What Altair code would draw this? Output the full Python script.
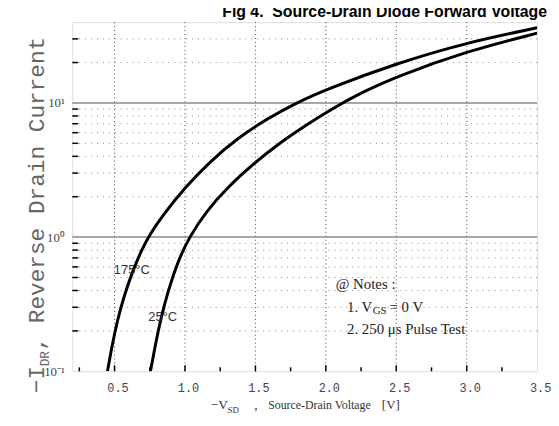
import altair as alt
import pandas as pd

# ---- data ----
v175 = [0.45, 0.48, 0.52, 0.57, 0.63, 0.69, 0.75, 0.84, 1.0, 1.18, 1.37, 1.58, 1.79, 2.0, 2.5, 3.0, 3.5]
i175 = [0.1, 0.151, 0.240, 0.372, 0.562, 0.794, 1.047, 1.445, 2.344, 3.673, 5.433, 7.586, 10.0, 12.59, 19.72, 28.18, 36.31]
v25 = [0.755, 0.79, 0.83, 0.88, 0.95, 1.03, 1.15, 1.30, 1.49, 1.67, 1.86, 2.05, 2.25, 2.5, 3.0, 3.5]
i25 = [0.1, 0.158, 0.251, 0.398, 0.661, 1.0, 1.55, 2.34, 3.55, 5.01, 6.84, 9.12, 11.9, 15.7, 24.3, 33.1]

x_grid = [0.5, 1.0, 1.5, 2.0, 2.5, 3.0]
x_labels = [0.5, 1.0, 1.5, 2.0, 2.5, 3.0, 3.5]
x_major_ticks = [0.5, 1.0, 1.5, 2.0, 2.5, 3.0]
x_minor_ticks = [0.25, 0.75, 1.25, 1.75, 2.25, 2.75, 3.25]
y_minor = [0.2, 0.3, 0.4, 0.5, 0.6, 0.7, 0.8, 0.9, 2, 3, 4, 5, 6, 7, 8, 9, 20, 30]
y_decades = [1, 10]
y_labels = [0.1, 1, 10]

W, H = 470, 353
xs = alt.Scale(domain=[0.2, 3.5], nice=False, zero=False)
ys = alt.Scale(type="log", domain=[0.1, 40], nice=False)

xaxis = alt.Axis(values=x_labels, format=".1f", grid=False, ticks=False, domain=False,
                 title="", labelFont="Liberation Mono", labelFontSize=12, labelColor="#444",
                 labelPadding=11, labelFlush=False, labelOffset=3)
yaxis = alt.Axis(values=y_labels, grid=False, ticks=False, domain=False, title="",
                 labelExpr="datum.value == 0.1 ? '10\u207b\u00b9' : datum.value == 1 ? '10\u2070' : '10\u00b9'",
                 labelFont="Liberation Serif", labelFontSize=13, labelColor="#444", labelPadding=8)

def X(f):
    return alt.X(f, type="quantitative", scale=xs, axis=xaxis)

def Y(f):
    return alt.Y(f, type="quantitative", scale=ys, axis=yaxis)

curves = pd.DataFrame({
    "v": v175 + v25,
    "i": i175 + i25,
    "s": ["175"] * len(v175) + ["25"] * len(v25),
})

vgrid = alt.Chart(pd.DataFrame({"v": x_grid})).mark_rule(
    color="#444", strokeWidth=1, strokeDash=[1, 3]).encode(x=X("v"))
hgrid = alt.Chart(pd.DataFrame({"i": y_minor})).mark_rule(
    color="#888", strokeWidth=1, strokeDash=[1, 5]).encode(y=Y("i"))
hdec = alt.Chart(pd.DataFrame({"i": y_decades})).mark_rule(
    color="#8a8a8a", strokeWidth=1.5).encode(y=Y("i"))

bt_major = alt.Chart(pd.DataFrame({"v": x_major_ticks})).mark_rule(color="black", strokeWidth=1.5).encode(
    x=X("v"), y=alt.value(H), y2=alt.value(H - 6))
bt_minor = alt.Chart(pd.DataFrame({"v": x_minor_ticks})).mark_rule(color="black", strokeWidth=1.5).encode(
    x=X("v"), y=alt.value(H), y2=alt.value(H - 4))
lt = alt.Chart(pd.DataFrame({"i": y_minor})).mark_rule(color="black", strokeWidth=1.5).encode(
    y=Y("i"), x=alt.value(0), x2=alt.value(6))

lines = alt.Chart(curves).mark_line(color="black", strokeWidth=3, interpolate="basis", clip=True).encode(
    x=X("v"), y=Y("i"), detail="s:N")

def ann(s, v, i, size=15, font="Liberation Serif", dx=0, dy=0, color="#222"):
    return alt.Chart(pd.DataFrame({"v": [v], "i": [i], "t": [s]})).mark_text(
        align="left", baseline="middle", font=font, fontSize=size, dx=dx, dy=dy, color=color
    ).encode(x=X("v"), y=Y("i"), text="t:N")

def txt(s, x, y, size=13, font="Liberation Serif", angle=0, align="left", weight="normal", color="#333"):
    return alt.Chart(pd.DataFrame({"t": [s]})).mark_text(
        align=align, baseline="alphabetic", font=font, fontSize=size, angle=angle,
        fontWeight=weight, color=color
    ).encode(x=alt.value(x), y=alt.value(y), text="t:N")

notes = [
    ann("@ Notes :", 2.07, 0.444),
    ann("1. V", 2.15, 0.30),
    ann("GS", 2.15, 0.30, size=11, dx=26, dy=4),
    ann("= 0 V", 2.15, 0.30, dx=43),
    ann("2. 250 \u03bcs Pulse Test", 2.15, 0.207),
    ann("175\u00b0C", 0.495, 0.57, size=13, font="Liberation Sans", color="#333"),
    ann("25\u00b0C", 0.74, 0.254, size=13, font="Liberation Sans", color="#333"),
]

titles = [
    txt("Fig 4.\u00a0\u00a0Source-Drain Diode Forward Voltage", 480, -5, size=16,
        font="Liberation Sans", align="right", weight="bold", color="black"),
    txt("\u2212V", 140, 391, size=13.5),
    txt("SD", 157, 395, size=9),
    txt(",", 184, 391, size=13.5),
    txt("Source-Drain Voltage", 198, 391, size=12),
    txt("[V]", 313, 391, size=13),
    txt("\u2212I", -29, 375, size=23, font="Liberation Mono", angle=270, color="#666"),
    txt("DR", -24, 348, size=13, font="Liberation Mono", angle=270, color="#666"),
    txt("\u00a0,\u00a0Reverse Drain Current", -29, 332, size=23, font="Liberation Mono", angle=270, color="#666"),
]

chart = alt.layer(vgrid, hgrid, hdec, bt_major, bt_minor, lt, lines, *notes, *titles).properties(
    width=W, height=H,
    autosize=alt.AutoSizeParams(type="none"),
    padding={"left": 65, "top": 12, "right": 14, "bottom": 53},
).configure_view(stroke="black", strokeWidth=2).configure(background="white")

chart.save("out.html", embed_options={"renderer": "svg", "actions": False})
